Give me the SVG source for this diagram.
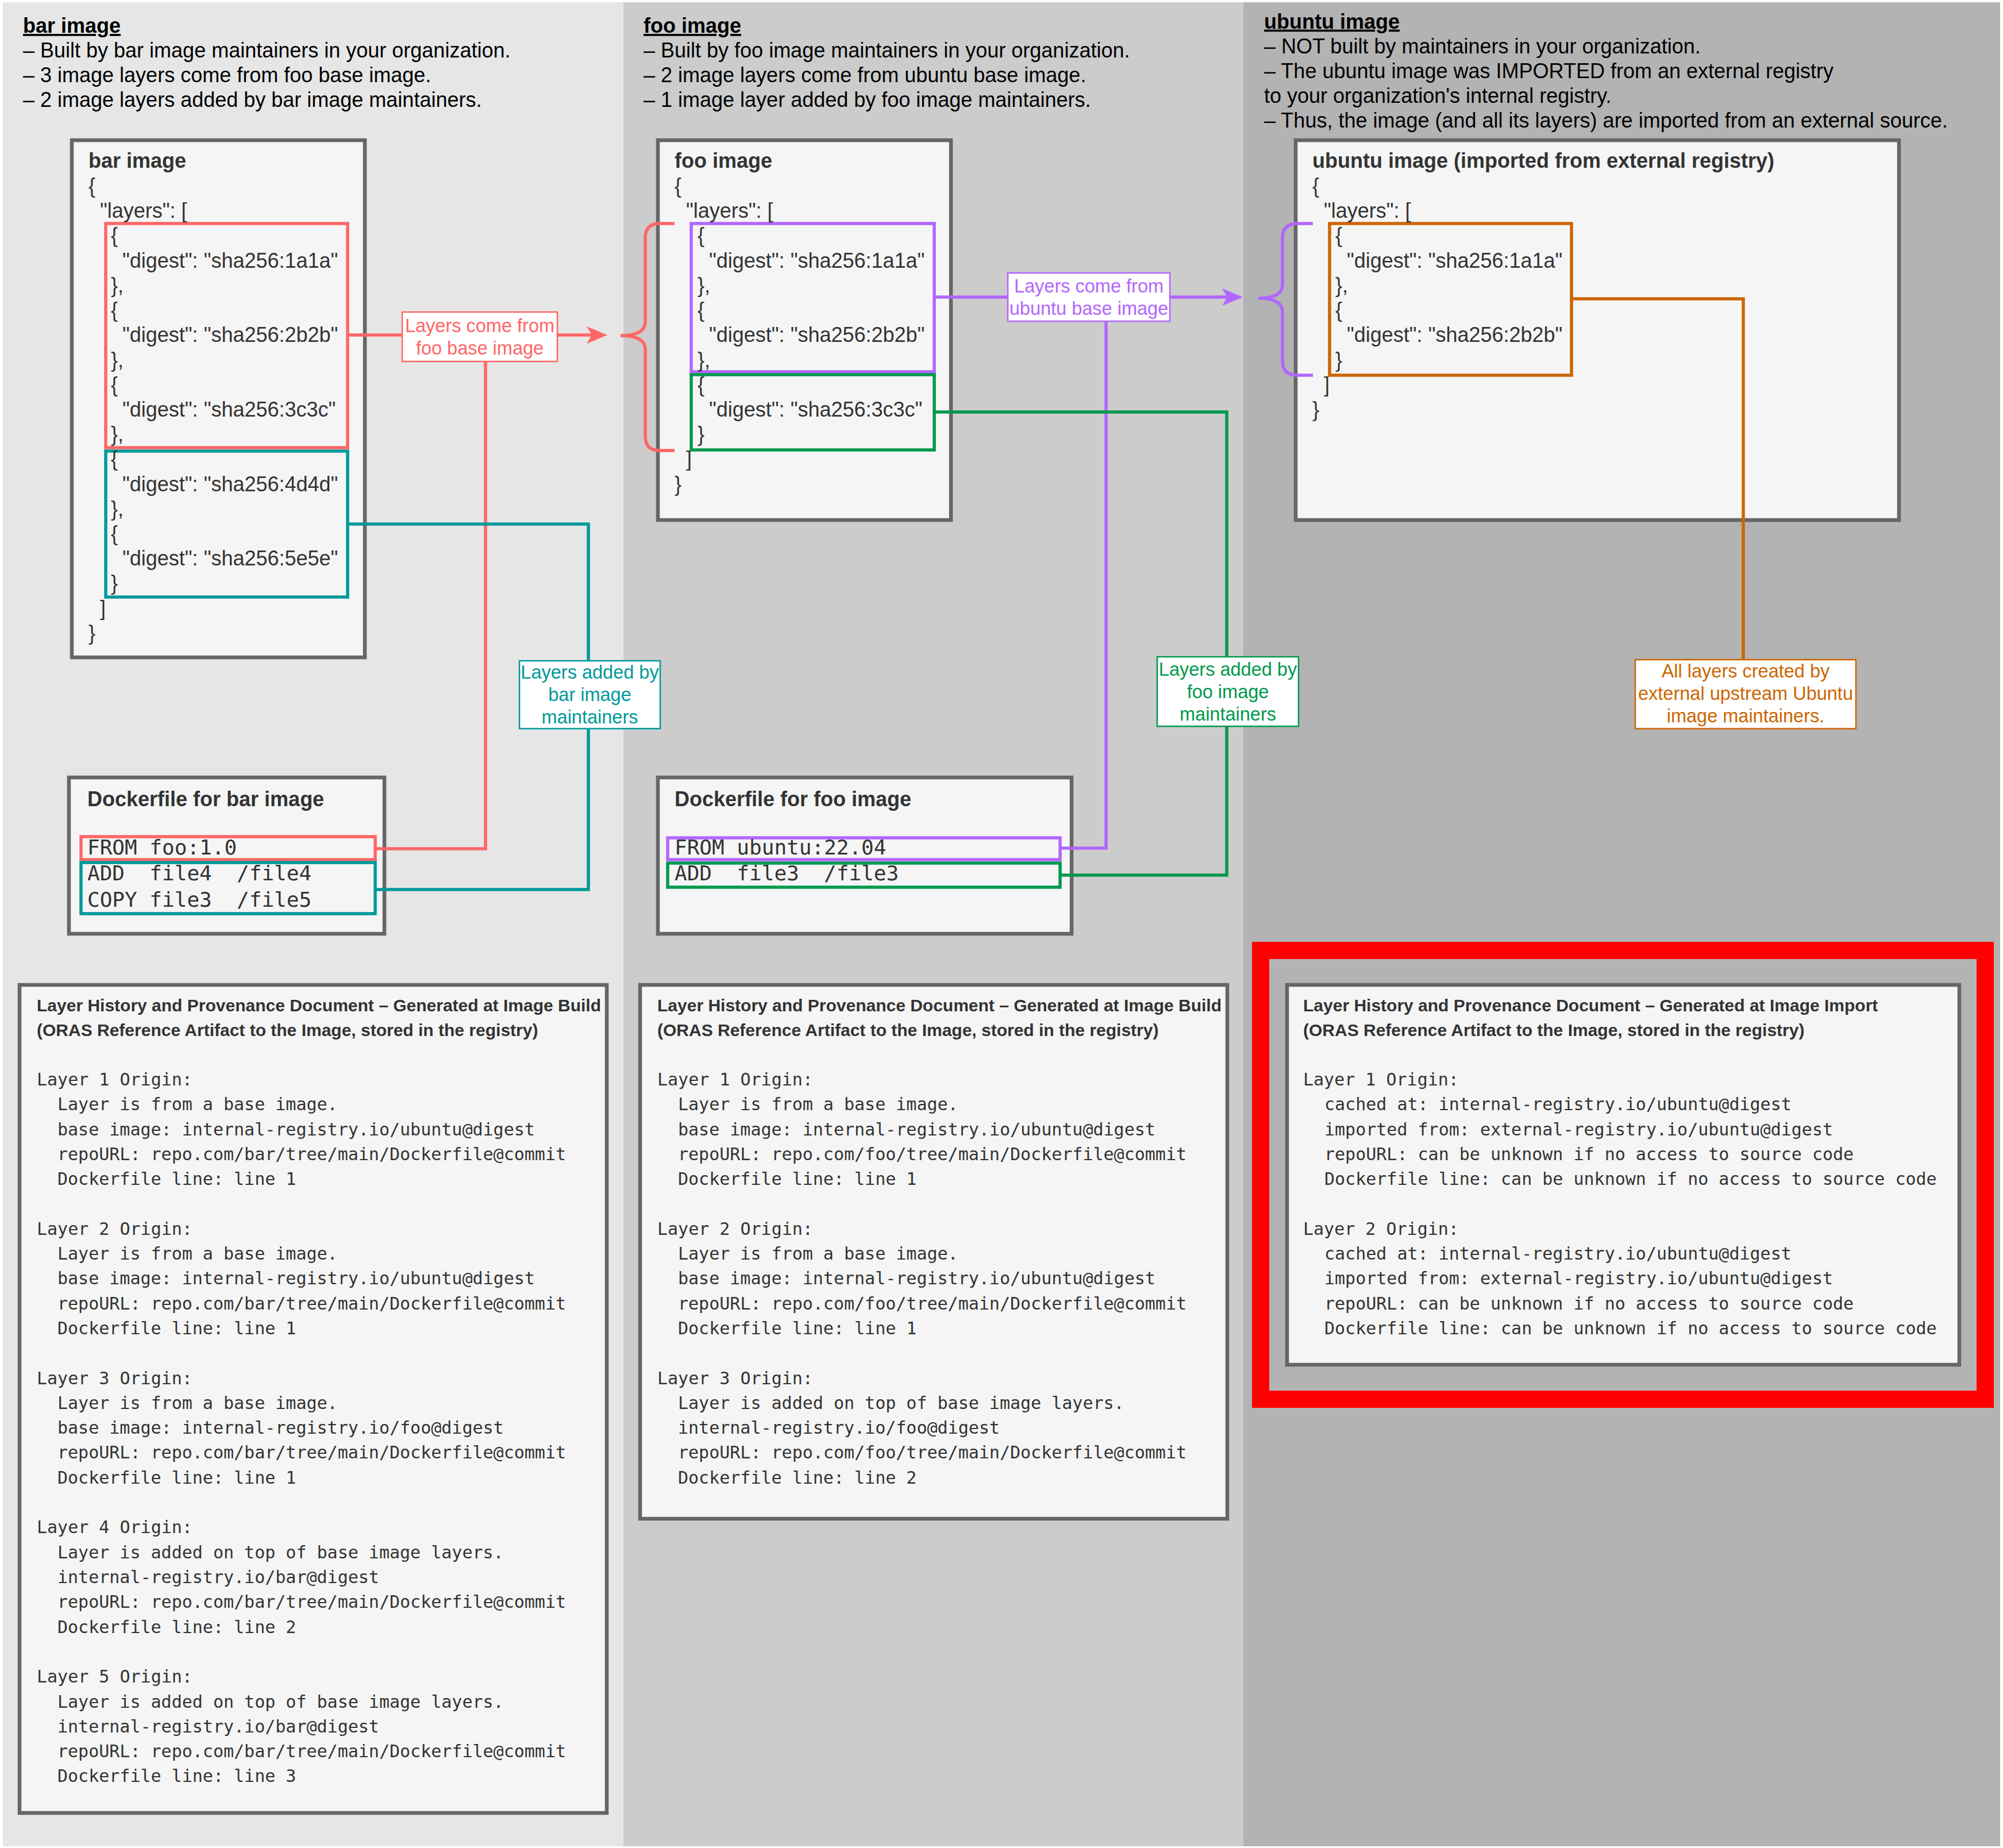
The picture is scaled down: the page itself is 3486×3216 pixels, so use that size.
<svg xmlns="http://www.w3.org/2000/svg" width="3486" height="3216" viewBox="0 0 3486 3216">
<defs>
<style>
.hdr{font-family:"Liberation Sans",Arial,sans-serif;font-size:36px;fill:#000}
.hdrt{font-weight:bold;text-decoration:underline}
.box{fill:#F5F5F5;stroke:#666666;stroke-width:6.5}
.t{font-family:"Liberation Sans",Arial,sans-serif;font-size:36px;fill:#333333}
.tb{font-weight:bold}
.m36{font-family:"DejaVu Sans Mono",monospace;font-size:36px;fill:#333333;white-space:pre}
.dt{font-family:"Liberation Sans",Arial,sans-serif;font-weight:bold;font-size:30px;fill:#333333}
.dm{font-family:"DejaVu Sans Mono",monospace;font-size:30px;fill:#333333;white-space:pre}
.lbl{font-family:"Liberation Sans",Arial,sans-serif;font-size:32.5px;text-anchor:middle}
.hl{fill:none;stroke-width:5.5}
.conn{fill:none;stroke-width:5.5}
.lb{fill:#FFFFFF;stroke-width:2.5}
.red{stroke:#FF6666}.redf{fill:#FF6666}
.teal{stroke:#009999}.tealf{fill:#009999}
.pur{stroke:#B266FF}.purf{fill:#B266FF}
.grn{stroke:#00994D}.grnf{fill:#00994D}
.org{stroke:#CC6600}.orgf{fill:#CC6600}
</style>
<marker id="arrRed" markerUnits="userSpaceOnUse" markerWidth="40" markerHeight="32" refX="9" refY="15" orient="auto"><path d="M0,0 L36,15 L0,30 L9,15 Z" fill="#FF6666"/></marker>
<marker id="arrPur" markerUnits="userSpaceOnUse" markerWidth="40" markerHeight="32" refX="9" refY="15" orient="auto"><path d="M0,0 L36,15 L0,30 L9,15 Z" fill="#B266FF"/></marker>
</defs>
<rect x="0" y="0" width="3486" height="3216" fill="#FFFFFF"/>

<g id="panels">
<rect x="5" y="4" width="1080" height="3209" fill="#E6E6E6"/>
<rect x="1085" y="4" width="1079" height="3209" fill="#CCCCCC"/>
<rect x="2164" y="4" width="1317" height="3209" fill="#B3B3B3"/>
</g>

<g id="bar-header" class="hdr">
<text x="40" y="57" class="hdrt">bar image</text>
<text x="40" y="100">– Built by bar image maintainers in your organization.</text>
<text x="40" y="143">– 3 image layers come from foo base image.</text>
<text x="40" y="186">– 2 image layers added by bar image maintainers.</text>
</g>
<g id="foo-header" class="hdr">
<text x="1120" y="57" class="hdrt">foo image</text>
<text x="1120" y="100">– Built by foo image maintainers in your organization.</text>
<text x="1120" y="143">– 2 image layers come from ubuntu base image.</text>
<text x="1120" y="186">– 1 image layer added by foo image maintainers.</text>
</g>
<g id="ubuntu-header" class="hdr">
<text x="2200" y="49.5" class="hdrt">ubuntu image</text>
<text x="2200" y="92.5">– NOT built by maintainers in your organization.</text>
<text x="2200" y="135.5">– The ubuntu image was IMPORTED from an external registry</text>
<text x="2200" y="178.5">to your organization's internal registry.</text>
<text x="2200" y="221.5">– Thus, the image (and all its layers) are imported from an external source.</text>
</g>

<g id="bar-image">
<rect class="box" x="125" y="244" width="510" height="900"/>
<rect class="hl red" x="184" y="389" width="421" height="390"/>
<rect class="hl teal" x="184" y="785" width="421" height="254"/>
<g class="t">
<text x="154" y="292" class="tb">bar image</text>
<text x="154" y="336">{</text>
<text x="174" y="379">"layers": [</text>
<text x="193" y="422">{</text>
<text x="213" y="466">"digest": "sha256:1a1a"</text>
<text x="193" y="509">},</text>
<text x="193" y="552">{</text>
<text x="213" y="595">"digest": "sha256:2b2b"</text>
<text x="193" y="639">},</text>
<text x="193" y="682">{</text>
<text x="213" y="725">"digest": "sha256:3c3c"</text>
<text x="193" y="768">},</text>
<text x="193" y="811">{</text>
<text x="213" y="855">"digest": "sha256:4d4d"</text>
<text x="193" y="898">},</text>
<text x="193" y="941">{</text>
<text x="213" y="984">"digest": "sha256:5e5e"</text>
<text x="193" y="1027">}</text>
<text x="174" y="1071">]</text>
<text x="154" y="1114">}</text>
</g>
</g>

<g id="foo-image">
<rect class="box" x="1145" y="244" width="510" height="661"/>
<rect class="hl pur" x="1203" y="389" width="423" height="258"/>
<rect class="hl grn" x="1203" y="652" width="423" height="131"/>
<g class="t">
<text x="1174" y="292" class="tb">foo image</text>
<text x="1174" y="336">{</text>
<text x="1194" y="379">"layers": [</text>
<text x="1214" y="422">{</text>
<text x="1234" y="466">"digest": "sha256:1a1a"</text>
<text x="1214" y="509">},</text>
<text x="1214" y="552">{</text>
<text x="1234" y="595">"digest": "sha256:2b2b"</text>
<text x="1214" y="639">},</text>
<text x="1214" y="682">{</text>
<text x="1234" y="725">"digest": "sha256:3c3c"</text>
<text x="1214" y="768">}</text>
<text x="1194" y="811">]</text>
<text x="1174" y="855">}</text>
</g>
</g>

<g id="ubuntu-image">
<rect class="box" x="2255" y="244" width="1050" height="661"/>
<rect class="hl org" x="2314" y="389" width="421" height="264"/>
<g class="t">
<text x="2284" y="292" class="tb">ubuntu image (imported from external registry)</text>
<text x="2284" y="336">{</text>
<text x="2304" y="379">"layers": [</text>
<text x="2324" y="422">{</text>
<text x="2344" y="466">"digest": "sha256:1a1a"</text>
<text x="2324" y="509">},</text>
<text x="2324" y="552">{</text>
<text x="2344" y="595">"digest": "sha256:2b2b"</text>
<text x="2324" y="639">}</text>
<text x="2304" y="682">]</text>
<text x="2284" y="725">}</text>
</g>
</g>

<g id="dockerfile-bar">
<rect class="box" x="120" y="1353" width="549" height="272"/>
<rect class="hl red" x="141" y="1456" width="512" height="40"/>
<rect class="hl teal" x="141" y="1501" width="512" height="89"/>
<text x="152" y="1403" class="t tb">Dockerfile for bar image</text>
<text x="152" y="1487" class="m36" xml:space="preserve">FROM foo:1.0</text>
<text x="152" y="1532" class="m36" xml:space="preserve">ADD  file4  /file4</text>
<text x="152" y="1578" class="m36" xml:space="preserve">COPY file3  /file5</text>
</g>

<g id="dockerfile-foo">
<rect class="box" x="1145" y="1353" width="720" height="272"/>
<rect class="hl pur" x="1162" y="1458" width="683" height="38"/>
<rect class="hl grn" x="1162" y="1502" width="683" height="42"/>
<text x="1174" y="1403" class="t tb">Dockerfile for foo image</text>
<text x="1174" y="1487" class="m36" xml:space="preserve">FROM ubuntu:22.04</text>
<text x="1174" y="1532" class="m36" xml:space="preserve">ADD  file3  /file3</text>
</g>

<g id="doc-bar">
<rect class="box" x="34" y="1714" width="1022" height="1441"/>
<text x="64" y="1760" class="dt">Layer History and Provenance Document – Generated at Image Build</text>
<text x="64" y="1803" class="dt">(ORAS Reference Artifact to the Image, stored in the registry)</text>
<g class="dm">
<text x="64" y="1889">Layer 1 Origin:</text>
<text x="100" y="1932">Layer is from a base image.</text>
<text x="100" y="1976">base image: internal-registry.io/ubuntu@digest</text>
<text x="100" y="2019">repoURL: repo.com/bar/tree/main/Dockerfile@commit</text>
<text x="100" y="2062">Dockerfile line: line 1</text>
<text x="64" y="2149">Layer 2 Origin:</text>
<text x="100" y="2192">Layer is from a base image.</text>
<text x="100" y="2235">base image: internal-registry.io/ubuntu@digest</text>
<text x="100" y="2279">repoURL: repo.com/bar/tree/main/Dockerfile@commit</text>
<text x="100" y="2322">Dockerfile line: line 1</text>
<text x="64" y="2409">Layer 3 Origin:</text>
<text x="100" y="2452">Layer is from a base image.</text>
<text x="100" y="2495">base image: internal-registry.io/foo@digest</text>
<text x="100" y="2538">repoURL: repo.com/bar/tree/main/Dockerfile@commit</text>
<text x="100" y="2582">Dockerfile line: line 1</text>
<text x="64" y="2668">Layer 4 Origin:</text>
<text x="100" y="2712">Layer is added on top of base image layers.</text>
<text x="100" y="2755">internal-registry.io/bar@digest</text>
<text x="100" y="2798">repoURL: repo.com/bar/tree/main/Dockerfile@commit</text>
<text x="100" y="2842">Dockerfile line: line 2</text>
<text x="64" y="2928">Layer 5 Origin:</text>
<text x="100" y="2972">Layer is added on top of base image layers.</text>
<text x="100" y="3015">internal-registry.io/bar@digest</text>
<text x="100" y="3058">repoURL: repo.com/bar/tree/main/Dockerfile@commit</text>
<text x="100" y="3101">Dockerfile line: line 3</text>
</g>
</g>

<g id="doc-foo">
<rect class="box" x="1114" y="1714" width="1022" height="929"/>
<text x="1144" y="1760" class="dt">Layer History and Provenance Document – Generated at Image Build</text>
<text x="1144" y="1803" class="dt">(ORAS Reference Artifact to the Image, stored in the registry)</text>
<g class="dm">
<text x="1144" y="1889">Layer 1 Origin:</text>
<text x="1180" y="1932">Layer is from a base image.</text>
<text x="1180" y="1976">base image: internal-registry.io/ubuntu@digest</text>
<text x="1180" y="2019">repoURL: repo.com/foo/tree/main/Dockerfile@commit</text>
<text x="1180" y="2062">Dockerfile line: line 1</text>
<text x="1144" y="2149">Layer 2 Origin:</text>
<text x="1180" y="2192">Layer is from a base image.</text>
<text x="1180" y="2235">base image: internal-registry.io/ubuntu@digest</text>
<text x="1180" y="2279">repoURL: repo.com/foo/tree/main/Dockerfile@commit</text>
<text x="1180" y="2322">Dockerfile line: line 1</text>
<text x="1144" y="2409">Layer 3 Origin:</text>
<text x="1180" y="2452">Layer is added on top of base image layers.</text>
<text x="1180" y="2495">internal-registry.io/foo@digest</text>
<text x="1180" y="2538">repoURL: repo.com/foo/tree/main/Dockerfile@commit</text>
<text x="1180" y="2582">Dockerfile line: line 2</text>
</g>
</g>

<g id="doc-ubuntu">
<rect x="2194" y="1654" width="1261" height="781" fill="none" stroke="#FF0000" stroke-width="30"/>
<rect class="box" x="2240" y="1714" width="1170" height="661"/>
<text x="2268" y="1760" class="dt">Layer History and Provenance Document – Generated at Image Import</text>
<text x="2268" y="1803" class="dt">(ORAS Reference Artifact to the Image, stored in the registry)</text>
<g class="dm">
<text x="2268" y="1889">Layer 1 Origin:</text>
<text x="2305" y="1932">cached at: internal-registry.io/ubuntu@digest</text>
<text x="2305" y="1976">imported from: external-registry.io/ubuntu@digest</text>
<text x="2305" y="2019">repoURL: can be unknown if no access to source code</text>
<text x="2305" y="2062">Dockerfile line: can be unknown if no access to source code</text>
<text x="2268" y="2149">Layer 2 Origin:</text>
<text x="2305" y="2192">cached at: internal-registry.io/ubuntu@digest</text>
<text x="2305" y="2235">imported from: external-registry.io/ubuntu@digest</text>
<text x="2305" y="2279">repoURL: can be unknown if no access to source code</text>
<text x="2305" y="2322">Dockerfile line: can be unknown if no access to source code</text>
</g>
</g>

<g id="connectors">
<path class="conn red" d="M1174,389 H1148 Q1123,389 1123,414 V560 Q1123,584 1080,584 Q1123,584 1123,608 V759 Q1123,784 1148,784 H1174"/>
<path class="conn pur" d="M2285,389 H2258 Q2232,389 2232,414 V495 Q2232,519 2190,519 Q2232,519 2232,543 V628 Q2232,653 2258,653 H2285"/>
<path class="conn red" d="M605,583 H1030" marker-end="url(#arrRed)"/>
<path class="conn red" d="M653,1477 H845 V629"/>
<path class="conn teal" d="M605,912 H1024 V1150"/>
<path class="conn teal" d="M653,1548 H1024 V1268"/>
<path class="conn pur" d="M1626,517 H2136" marker-end="url(#arrPur)"/>
<path class="conn pur" d="M1845,1476 H1925 V558"/>
<path class="conn grn" d="M1626,717 H2135 V1143"/>
<path class="conn grn" d="M1845,1523 H2135 V1264"/>
<path class="conn org" d="M2735,520 H3034 V1148"/>

<g id="label-foo-base">
<rect class="lb red" x="700" y="543" width="270" height="86"/>
<text class="lbl redf" x="835" y="578">Layers come from</text>
<text class="lbl redf" x="835" y="617">foo base image</text>
</g>
<g id="label-bar-added">
<rect class="lb teal" x="904" y="1150" width="245" height="118"/>
<text class="lbl tealf" x="1026.5" y="1181">Layers added by</text>
<text class="lbl tealf" x="1026.5" y="1220">bar image</text>
<text class="lbl tealf" x="1026.5" y="1259">maintainers</text>
</g>
<g id="label-ubuntu-base">
<rect class="lb pur" x="1754" y="475" width="282" height="84"/>
<text class="lbl purf" x="1895" y="509">Layers come from</text>
<text class="lbl purf" x="1895" y="548">ubuntu base image</text>
</g>
<g id="label-foo-added">
<rect class="lb grn" x="2014" y="1143" width="246" height="121"/>
<text class="lbl grnf" x="2137" y="1176">Layers added by</text>
<text class="lbl grnf" x="2137" y="1215">foo image</text>
<text class="lbl grnf" x="2137" y="1254">maintainers</text>
</g>
<g id="label-ubuntu-upstream">
<rect class="lb org" x="2846" y="1148" width="384" height="120"/>
<text class="lbl orgf" x="3038" y="1179">All layers created by</text>
<text class="lbl orgf" x="3038" y="1218">external upstream Ubuntu</text>
<text class="lbl orgf" x="3038" y="1257">image maintainers.</text>
</g>
</g>
</svg>
